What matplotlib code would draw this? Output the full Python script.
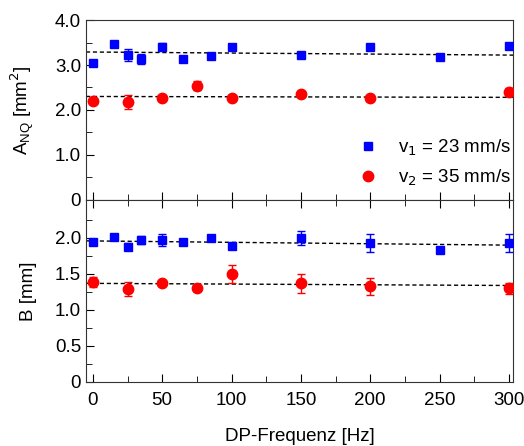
import numpy as np
import matplotlib
matplotlib.use("Agg")
import matplotlib.pyplot as plt
from matplotlib.ticker import MultipleLocator, FixedLocator, FuncFormatter

plt.rcParams['font.family'] = ['Liberation Sans', 'DejaVu Sans']

# data
x_blue = [0, 15, 25, 35, 50, 65, 85, 100, 150, 200, 250, 300]
a_blue = [3.05, 3.47, 3.23, 3.13, 3.41, 3.13, 3.21, 3.39, 3.23, 3.40, 3.18, 3.42]
a_blue_err = [0.04, 0.07, 0.13, 0.11, 0.08, 0.04, 0.04, 0.05, 0.04, 0.04, 0.04, 0.05]
b_blue = [1.94, 2.01, 1.88, 1.97, 1.97, 1.95, 2.00, 1.89, 2.00, 1.93, 1.83, 1.93]
b_blue_err = [0.04, 0.03, 0.05, 0.06, 0.08, 0.02, 0.03, 0.03, 0.10, 0.12, 0.03, 0.13]

x_red = [0, 25, 50, 75, 100, 150, 200, 300]
a_red = [2.21, 2.18, 2.27, 2.54, 2.27, 2.35, 2.27, 2.40]
a_red_err = [0.06, 0.15, 0.05, 0.10, 0.05, 0.07, 0.07, 0.08]
b_red = [1.39, 1.29, 1.37, 1.30, 1.50, 1.37, 1.33, 1.30]
b_red_err = [0.07, 0.10, 0.03, 0.04, 0.13, 0.13, 0.12, 0.08]

# linear fits (start/end values)
fit_x = [-5, 303]
fit_a_blue = [3.29, 3.22]
fit_a_red = [2.30, 2.28]
fit_b_blue = [1.96, 1.90]
fit_b_red = [1.37, 1.34]

fig = plt.figure(figsize=(5.24, 4.46), dpi=100)
ax1 = fig.add_axes([0.164, 0.552, 0.815, 0.403])
ax2 = fig.add_axes([0.164, 0.1435, 0.815, 0.4085])

blue = '#0000ff'
red = '#ff0000'
fs = 13.5


def fmt(v, pos):
    if abs(v) < 1e-9:
        return '0'
    return '%.1f' % v


for ax, yb, eb, yr, er, fb, fr in [
    (ax1, a_blue, a_blue_err, a_red, a_red_err, fit_a_blue, fit_a_red),
    (ax2, b_blue, b_blue_err, b_red, b_red_err, fit_b_blue, fit_b_red),
]:
    ax.plot(fit_x, fb, color='black', ls=(0, (3, 2)), lw=1.0, zorder=1)
    ax.plot(fit_x, fr, color='black', ls=(0, (3, 2)), lw=1.0, zorder=1)
    ax.errorbar(x_blue, yb, yerr=eb, fmt='s', color=blue, ms=6, capsize=3,
                elinewidth=1, capthick=1, zorder=3, label='v$_1$ = 23 mm/s')
    ax.errorbar(x_red, yr, yerr=er, fmt='o', color=red, ms=7.5, capsize=3,
                elinewidth=1, capthick=1, zorder=3, label='v$_2$ = 35 mm/s')
    ax.set_xlim(-5, 303)
    ax.xaxis.set_major_locator(MultipleLocator(50))
    ax.xaxis.set_minor_locator(MultipleLocator(25))
    ax.tick_params(which='both', direction='in', labelsize=fs,
                   top=False, right=False)
    ax.tick_params(which='major', length=6)
    ax.tick_params(which='minor', length=4)
    ax.tick_params(axis='x', pad=7)
    ax.yaxis.set_major_formatter(FuncFormatter(fmt))
    for sp in ax.spines.values():
        sp.set_color('#333333')

ax1.set_ylim(0, 4.0)
ax1.yaxis.set_major_locator(MultipleLocator(1.0))
ax1.yaxis.set_minor_locator(MultipleLocator(0.5))
ax1.tick_params(axis='x', labelbottom=False)
ax1.set_ylabel('A$_{\\mathregular{NQ}}$ [mm$^2$]', fontsize=fs)

ax2.set_ylim(0, 2.53)
ax2.yaxis.set_major_locator(FixedLocator([0, 0.5, 1.0, 1.5, 2.0]))
ax2.yaxis.set_minor_locator(FixedLocator([0.25, 0.75, 1.25, 1.75, 2.25]))
ax2.tick_params(axis='x', top=True, which='both')
ax2.set_ylabel('B [mm]', fontsize=fs)
ax2.set_xlabel('DP-Frequenz [Hz]', fontsize=fs, labelpad=14)

handles, labels = ax1.get_legend_handles_labels()
handles = [h[0] for h in handles]
ax1.legend(handles, labels, loc='lower right', frameon=False, fontsize=fs,
           handletextpad=0.6, bbox_to_anchor=(1.035, -0.03), labelspacing=0.55)

ax1.yaxis.set_label_coords(-0.115, 0.5)
ax2.yaxis.set_label_coords(-0.115, 0.5)

fig.savefig('out.png', dpi=100)
